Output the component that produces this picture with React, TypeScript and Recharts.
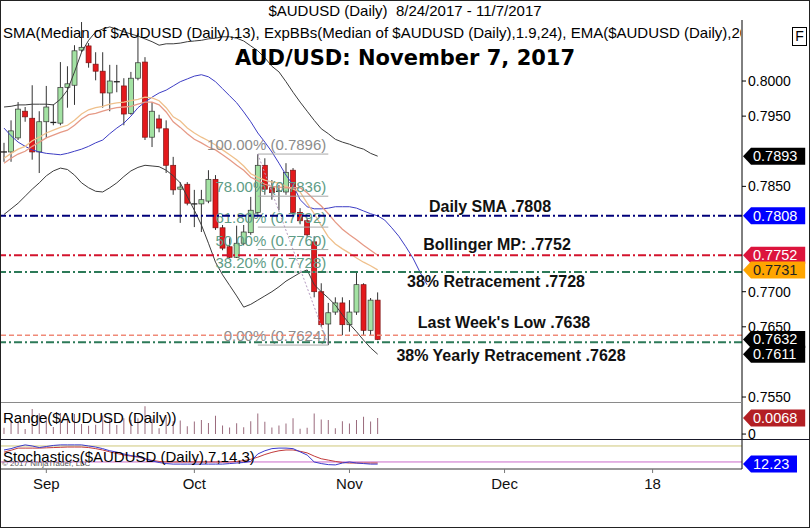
import { Bar, ComposedChart, Line, ReferenceLine, XAxis, YAxis } from "recharts";

const FONT = "'Liberation Sans', Arial, sans-serif";

// daily candles 8/24/2017 - 11/7/2017
const opens = [
  0.7899, 0.7899, 0.7919, 0.7957, 0.7947, 0.7899, 0.7942, 0.7940, 0.7940, 0.7991,
  0.7994, 0.8044, 0.8050, 0.8024, 0.8014, 0.7983, 0.7999, 0.7993, 0.7954, 0.8004,
  0.8027, 0.7920, 0.7946, 0.7932, 0.7880, 0.7846, 0.7853, 0.7825, 0.7825, 0.7829,
  0.7860, 0.7791, 0.7764, 0.7749, 0.7769, 0.7784, 0.7813, 0.7880, 0.7848, 0.7842,
  0.7842, 0.7873, 0.7813, 0.7801, 0.7771, 0.7700, 0.7654, 0.7671, 0.7684, 0.7653,
  0.7671, 0.7710, 0.7645, 0.7688,
];
const highs = [
  0.7912, 0.7944, 0.7970, 0.7963, 0.7994, 0.7957, 0.7993, 0.7967, 0.8027, 0.8021,
  0.8051, 0.8084, 0.8054, 0.8041, 0.8041, 0.8023, 0.8023, 0.8004, 0.8013, 0.8068,
  0.8034, 0.7970, 0.7952, 0.7944, 0.7892, 0.7856, 0.7856, 0.7845, 0.7845, 0.7873,
  0.7866, 0.7795, 0.7776, 0.7794, 0.7795, 0.7835, 0.7896, 0.7890, 0.7859, 0.7852,
  0.7883, 0.7876, 0.7819, 0.7805, 0.7779, 0.7712, 0.7684, 0.7692, 0.7692, 0.7688,
  0.7727, 0.7712, 0.7691, 0.7699,
];
const lows = [
  0.7885, 0.7885, 0.7916, 0.7942, 0.7888, 0.7869, 0.7919, 0.7937, 0.7937, 0.7962,
  0.7966, 0.8041, 0.8019, 0.8001, 0.7962, 0.7957, 0.7984, 0.7937, 0.7952, 0.8001,
  0.7916, 0.7906, 0.7927, 0.7869, 0.7838, 0.7798, 0.7823, 0.7792, 0.7785, 0.7826,
  0.7788, 0.7759, 0.7748, 0.7748, 0.7766, 0.7781, 0.7809, 0.7838, 0.7831, 0.7816,
  0.7838, 0.7809, 0.7796, 0.7778, 0.7692, 0.7650, 0.7624, 0.7667, 0.7638, 0.7643,
  0.7667, 0.7638, 0.7638, 0.7631,
];
const closes = [
  0.7898, 0.7929, 0.7960, 0.7949, 0.7899, 0.7942, 0.7963, 0.7941, 0.7991, 0.7996,
  0.8043, 0.8048, 0.8026, 0.8014, 0.7983, 0.8000, 0.7998, 0.7953, 0.8004, 0.8026,
  0.7920, 0.7957, 0.7933, 0.7880, 0.7845, 0.7849, 0.7826, 0.7824, 0.7831, 0.7860,
  0.7791, 0.7762, 0.7749, 0.7769, 0.7785, 0.7816, 0.7880, 0.7846, 0.7841, 0.7843,
  0.7870, 0.7813, 0.7801, 0.7781, 0.7700, 0.7653, 0.7670, 0.7684, 0.7653, 0.7671,
  0.7710, 0.7645, 0.7688, 0.7632,
];

// ExpBBs bands and middle
const bbUpper = [
  0.7963, 0.7964, 0.7966, 0.7966, 0.7967, 0.7967, 0.7967, 0.7966, 0.7974, 0.7987,
  0.8013, 0.8041, 0.8058, 0.8070, 0.8074, 0.8077, 0.8074, 0.8070, 0.8067, 0.8064,
  0.8060, 0.8056, 0.8051, 0.8053, 0.8053, 0.8054, 0.8056, 0.8057, 0.8058, 0.8060,
  0.8061, 0.8063, 0.8063, 0.8061, 0.8057, 0.8050, 0.8043, 0.8033, 0.8021, 0.8013,
  0.7999, 0.7984, 0.7970, 0.7957, 0.7944, 0.7932, 0.7925, 0.7917, 0.7913, 0.7910,
  0.7906, 0.7903, 0.7897, 0.7893,
];
const bbLower = [
  0.7810, 0.7818, 0.7826, 0.7836, 0.7846, 0.7855, 0.7865, 0.7872, 0.7876, 0.7874,
  0.7866, 0.7855, 0.7848, 0.7843, 0.7842, 0.7848, 0.7855, 0.7864, 0.7872, 0.7877,
  0.7880, 0.7879, 0.7878, 0.7873, 0.7865, 0.7855, 0.7835, 0.7816, 0.7795, 0.7769,
  0.7742, 0.7724, 0.7709, 0.7694, 0.7678, 0.7682, 0.7688, 0.7694, 0.7700, 0.7707,
  0.7715, 0.7721, 0.7727, 0.7731, 0.7710, 0.7700, 0.7691, 0.7681, 0.7667, 0.7654,
  0.7643, 0.7631, 0.7620, 0.7611,
];
const bbMid = [
  0.7883, 0.7890, 0.7896, 0.7900, 0.7907, 0.7913, 0.7919, 0.7923, 0.7927, 0.7930,
  0.7937, 0.7946, 0.7952, 0.7954, 0.7957, 0.7960, 0.7962, 0.7963, 0.7964, 0.7967,
  0.7970, 0.7970, 0.7966, 0.7956, 0.7942, 0.7934, 0.7925, 0.7917, 0.7912, 0.7906,
  0.7902, 0.7895, 0.7888, 0.7880, 0.7873, 0.7863, 0.7858, 0.7853, 0.7850, 0.7849,
  0.7848, 0.7848, 0.7848, 0.7841, 0.7831, 0.7822, 0.7811, 0.7799, 0.7789, 0.7781,
  0.7774, 0.7766, 0.7759, 0.7752,
];
const emaLine = [
  0.7890, 0.7897, 0.7903, 0.7907, 0.7915, 0.7920, 0.7926, 0.7930, 0.7934, 0.7937,
  0.7944, 0.7953, 0.7959, 0.7962, 0.7964, 0.7967, 0.7969, 0.7970, 0.7972, 0.7974,
  0.7977, 0.7976, 0.7972, 0.7962, 0.7949, 0.7943, 0.7933, 0.7926, 0.7920, 0.7915,
  0.7909, 0.7902, 0.7895, 0.7888, 0.7879, 0.7868, 0.7863, 0.7859, 0.7856, 0.7855,
  0.7850, 0.7846, 0.7842, 0.7826, 0.7811, 0.7794, 0.7778, 0.7768, 0.7761, 0.7755,
  0.7748, 0.7742, 0.7737, 0.7731,
];
// daily SMA, plotted forward past the last bar
const dailySma = [
  0.7933, 0.7922, 0.7913, 0.7907, 0.7902, 0.7899, 0.7897, 0.7896, 0.7895, 0.7897,
  0.7900, 0.7903, 0.7907, 0.7912, 0.7916, 0.7925, 0.7933, 0.7940, 0.7950, 0.7962,
  0.7970, 0.7977, 0.7983, 0.7987, 0.7993, 0.7999, 0.8003, 0.8007, 0.8009, 0.8006,
  0.7999, 0.7989, 0.7979, 0.7969, 0.7956, 0.7942, 0.7926, 0.7913, 0.7899, 0.7883,
  0.7866, 0.7852, 0.7831, 0.7821, 0.7818, 0.7818, 0.7819, 0.7821, 0.7821, 0.7821,
  0.7819, 0.7815, 0.7811, 0.7808, 0.7802, 0.7791, 0.7779, 0.7764, 0.7748, 0.7728,
  0.7710,
];

const stochK = [
  65, 70, 78, 84, 80, 74, 78, 82, 84, 84,
  84, 84, 80, 76, 70, 62, 57, 50, 44, 40,
  32, 24, 18, 14, 12, 12, 12, 12, 12, 12,
  12, 12, 14, 16, 18, 22, 50, 62, 70, 72,
  72, 70, 58, 46, 20, 14, 10, 9, 16, 20,
  16, 14, 12, 12,
];
const stochD = [
  57, 64, 72, 72, 72, 72, 73, 74, 75, 76,
  76, 76, 74, 70, 65, 58, 52, 46, 42, 38,
  32, 26, 22, 20, 20, 20, 20, 20, 20, 20,
  20, 20, 20, 22, 25, 30, 38, 48, 56, 62,
  65, 65, 60, 54, 42, 32, 27, 22, 18, 16,
  16, 16, 16, 16,
];

const monthTicks = [6, 27, 49, 71, 92];
const monthLabels = ["Sep", "Oct", "Nov", "Dec", "18"];
const priceTicks = [0.755, 0.765, 0.77, 0.785, 0.795, 0.8];

const fibPct = ["100.00%", "78.00%", "61.80%", "50.00%", "38.20%", "0.00%"];
const fibPrice = [0.7896, 0.7836, 0.7792, 0.776, 0.7728, 0.7624];
const fibFrom = 36;
const fibTo = 46;

const levelValues = [0.7808, 0.7752, 0.7728, 0.7638, 0.7628];
const levelNotes = [
  "Daily SMA .7808",
  "Bollinger MP: .7752",
  "38% Retracement .7728",
  "Last Week's Low .7638",
  "38% Yearly Retracement .7628",
];

const lastValues = [0.7893, 0.7808, 0.7752, 0.7731, 0.7632, 0.7611];
const rangeLast = 0.0068;
const stochLast = 12.23;

// styling
const X_DOMAIN = [-0.57, 104.68];
const levelStroke = ["#00007a", "#d3132d", "#2c7a58", "#f08a78", "#2c7a58"];
const levelDash = ["8 3 2 3", "8 3 2 3", "8 3 2 3", "5 3", "8 3 2 3"];
const levelWidth = [2, 2, 2, 1.5, 2];
const noteX = [490, 497, 496, 504, 511];
const noteDy = [-4, -5, 15, -7, 19];
const fibText = ["#8c8c8c", "#5e9c86", "#5e9c86", "#5e9c86", "#5e9c86", "#8c8c8c"];
const flagBg = ["#000", "#0000ff", "#dc143c", "#ffa500", "#000", "#000"];
const flagFg = ["#fff", "#fff", "#fff", "#222", "#fff", "#fff"];

const mainRows = dailySma.map((s, i) => ({
  i,
  sma: s,
  o: opens[i],
  h: highs[i],
  l: lows[i],
  c: closes[i],
  up: bbUpper[i],
  lo: bbLower[i],
  mid: bbMid[i],
  ema: emaLine[i],
}));
const rangeRows = highs.map((h, i) => ({ i, r: +(h - lows[i]).toFixed(4) }));
const stochRows = stochK.map((k, i) => ({ i, k, d: stochD[i] }));

const candleSpan = (d: any) => (d.h == null ? null : [d.l, d.h]);

const Candle = (props: any) => {
  const { x, y, width, height, payload } = props;
  if (!payload || payload.h == null || !isFinite(y) || !isFinite(height)) return <g />;
  const top = Math.min(y, y + height);
  const span = Math.abs(height);
  const k = span / (payload.h - payload.l);
  const yo = top + (payload.h - payload.o) * k;
  const yc = top + (payload.h - payload.c) * k;
  const cx = x + width / 2;
  const up = payload.c >= payload.o;
  const bTop = Math.min(yo, yc);
  const bH = Math.abs(yc - yo);
  return (
    <g>
      <line x1={cx} x2={cx} y1={top} y2={top + span} stroke="#333" strokeWidth={1} />
      {bH < 1.3 ? (
        <line x1={x - 0.5} x2={x + width + 0.5} y1={bTop} y2={bTop} stroke="#222" strokeWidth={1.3} />
      ) : (
        <rect
          x={x}
          y={bTop}
          width={width}
          height={bH}
          fill={up ? "#a3e2a3" : "#e3191c"}
          stroke={up ? "#333" : "#7a1414"}
          strokeWidth={0.7}
        />
      )}
    </g>
  );
};

function flagLabel(text: string, bg: string, fg: string) {
  return (p: any) => {
    const vb = p.viewBox ?? p;
    const x0 = vb.x + vb.width;
    const y0 = vb.y;
    const w = 14 + text.length * 8.2;
    return (
      <g>
        <polygon
          points={`${x0 + 1},${y0} ${x0 + 9},${y0 - 8.5} ${x0 + w},${y0 - 8.5} ${x0 + w},${y0 + 8.5} ${x0 + 9},${y0 + 8.5}`}
          fill={bg}
        />
        <text x={x0 + 11} y={y0 + 5} fontSize={14.5} fill={fg} fontFamily={FONT}>
          {text}
        </text>
      </g>
    );
  };
}

function noteLabel(k: number) {
  return (p: any) => {
    const vb = p.viewBox ?? p;
    return (
      <text
        x={vb.x + noteX[k]}
        y={vb.y + noteDy[k]}
        textAnchor="middle"
        fontSize={16}
        fontWeight="bold"
        fill="#111"
        fontFamily={FONT}
      >
        {levelNotes[k]}
      </text>
    );
  };
}

function fibLabel(k: number) {
  return (p: any) => {
    const vb = p.viewBox ?? p;
    return (
      <text x={vb.x + vb.width - 2} y={vb.y - 4} textAnchor="end" fontSize={15} fill={fibText[k]} fontFamily={FONT}>
        {`${fibPct[k]} (${fibPrice[k].toFixed(4)})`}
      </text>
    );
  };
}

const txt = (top: number, left: number, size: number, extra: any = {}) => ({
  position: "absolute" as const,
  top,
  left,
  fontSize: size,
  lineHeight: `${size + 2}px`,
  whiteSpace: "nowrap" as const,
  zIndex: 3,
  ...extra,
});

const noMargin = { top: 0, right: 0, bottom: 0, left: 0 };

export default function App() {
  return (
    <div
      style={{
        position: "fixed",
        left: 0,
        top: 0,
        width: 810,
        height: 528,
        background: "#fff",
        fontFamily: FONT,
        overflow: "hidden",
        color: "#000",
      }}
    >
      <style>{`.recharts-surface{overflow:visible}`}</style>
      <div style={txt(2, 0, 15, { width: 810, textAlign: "center" })}>
        $AUDUSD (Daily)&nbsp;&nbsp;8/24/2017 - 11/7/2017
      </div>

      <div style={{ position: "absolute", left: 0, top: 20 }}>
        <ComposedChart width={810} height={383} data={mainRows} margin={noMargin}>
          <XAxis type="number" dataKey="i" domain={X_DOMAIN} allowDataOverflow hide />
          <YAxis
            orientation="right"
            width={68}
            domain={[0.75415, 0.80869]}
            allowDataOverflow
            ticks={priceTicks}
            interval={0}
            tickFormatter={(v: number) => v.toFixed(4)}
            tick={{ fontSize: 14, fill: "#000", fontFamily: FONT }}
            tickSize={4}
            tickMargin={2}
            tickLine={{ stroke: "#000" }}
            axisLine={{ stroke: "#000" }}
          />
          <Line dataKey="up" stroke="#3c3c3c" strokeWidth={1} dot={false} isAnimationActive={false} />
          <Line dataKey="lo" stroke="#3c3c3c" strokeWidth={1} dot={false} isAnimationActive={false} />
          <Line dataKey="sma" stroke="#3d3dc4" strokeWidth={1} dot={false} isAnimationActive={false} />
          <Line dataKey="ema" stroke="#efc08c" strokeWidth={1.3} dot={false} isAnimationActive={false} />
          <Line dataKey="mid" stroke="#e69a86" strokeWidth={1.3} dot={false} isAnimationActive={false} />
          {fibPrice.map((p, k) => (
            <ReferenceLine
              key={"fib" + k}
              segment={[
                { x: fibFrom, y: p },
                { x: fibTo, y: p },
              ]}
              stroke="#a6a6a6"
              strokeWidth={1}
              label={fibLabel(k)}
            />
          ))}
          <ReferenceLine
            segment={[
              { x: fibFrom, y: fibPrice[0] },
              { x: fibTo, y: fibPrice[5] },
            ]}
            stroke="#b49ac0"
            strokeDasharray="2 2"
            strokeWidth={1}
          />
          <Bar dataKey={candleSpan} barSize={5} shape={<Candle />} isAnimationActive={false} />
          {levelValues.map((v, k) => (
            <ReferenceLine
              key={"lvl" + k}
              y={v}
              stroke={levelStroke[k]}
              strokeWidth={levelWidth[k]}
              strokeDasharray={levelDash[k]}
              label={noteLabel(k)}
            />
          ))}
          {lastValues.map((v, k) => (
            <ReferenceLine
              key={"flag" + k}
              y={v}
              stroke="none"
              label={flagLabel(v.toFixed(4), flagBg[k], flagFg[k])}
            />
          ))}
        </ComposedChart>
      </div>

      <div style={{ position: "absolute", left: 0, top: 402, width: 742, height: 1, background: "#8a8a8a" }} />

      <div style={{ position: "absolute", left: 0, top: 403 }}>
        <ComposedChart width={810} height={36} data={rangeRows} margin={noMargin}>
          <XAxis type="number" dataKey="i" domain={X_DOMAIN} allowDataOverflow hide />
          <YAxis
            orientation="right"
            width={68}
            domain={[-0.0021, 0.0132]}
            allowDataOverflow
            ticks={[0]}
            interval={0}
            tickFormatter={() => "0"}
            tick={{ fontSize: 14, fill: "#000", fontFamily: FONT }}
            tickSize={4}
            tickMargin={2}
            tickLine={{ stroke: "#000" }}
            axisLine={{ stroke: "#000" }}
          />
          <Bar dataKey="r" barSize={1} fill="#9a6a7c" isAnimationActive={false} />
          <ReferenceLine y={rangeLast} stroke="none" label={flagLabel(rangeLast.toFixed(4), "#b31f24", "#fff")} />
        </ComposedChart>
      </div>

      <div style={{ position: "absolute", left: 0, top: 439, width: 810, height: 1, background: "#1a1a2a" }} />

      <div style={{ position: "absolute", left: 0, top: 440 }}>
        <ComposedChart width={810} height={59} data={stochRows} margin={noMargin}>
          <XAxis
            type="number"
            dataKey="i"
            domain={X_DOMAIN}
            allowDataOverflow
            ticks={monthTicks}
            interval={0}
            tickFormatter={(v: number) => monthLabels[monthTicks.indexOf(v)] ?? ""}
            height={30}
            tick={{ fontSize: 15, fill: "#111", fontFamily: FONT }}
            tickSize={4}
            tickMargin={5}
            tickLine={{ stroke: "#777" }}
            axisLine={{ stroke: "#333" }}
          />
          <YAxis
            orientation="right"
            width={68}
            domain={[-6.4, 102.4]}
            allowDataOverflow
            tick={false}
            tickLine={false}
            axisLine={{ stroke: "#000" }}
          />
          <ReferenceLine y={80} stroke="#cfc77a" strokeWidth={1} />
          <ReferenceLine y={20} stroke="#c86ac8" strokeWidth={1} />
          <Line dataKey="d" stroke="#c23a3a" strokeWidth={1} dot={false} isAnimationActive={false} />
          <Line dataKey="k" stroke="#3a3acc" strokeWidth={1} dot={false} isAnimationActive={false} />
          <ReferenceLine y={stochLast} stroke="none" label={flagLabel(stochLast.toFixed(2), "#0000ff", "#fff")} />
        </ComposedChart>
      </div>

      <div style={{ ...txt(24, 3, 15), width: 738, overflow: "hidden" }}>
        SMA(Median of $AUDUSD (Daily),13), ExpBBs(Median of $AUDUSD (Daily),1.9,24), EMA($AUDUSD (Daily),20)
      </div>
      <div
        style={txt(45, 0, 21, {
          width: 810,
          textAlign: "center",
          fontFamily: "'DejaVu Sans', sans-serif",
          fontWeight: "bold",
          lineHeight: "26px",
        })}
      >
        AUD/USD: November 7, 2017
      </div>
      <div
        style={{
          position: "absolute",
          left: 792,
          top: 27,
          width: 13,
          height: 17,
          border: "1px solid #000",
          fontSize: 14,
          lineHeight: "17px",
          textAlign: "center",
          zIndex: 3,
        }}
      >
        F
      </div>
      <div style={txt(409, 3, 15)}>Range($AUDUSD (Daily))</div>
      <div style={txt(448, 3, 15)}>Stochastics($AUDUSD (Daily),7,14,3)</div>
      <div style={txt(459, 2, 8, { color: "#555" })}>© 2017 NinjaTrader, LLC</div>

      <div
        style={{
          position: "absolute",
          inset: 0,
          border: "1px solid #222",
          boxSizing: "border-box",
          pointerEvents: "none",
          zIndex: 5,
        }}
      />
    </div>
  );
}
